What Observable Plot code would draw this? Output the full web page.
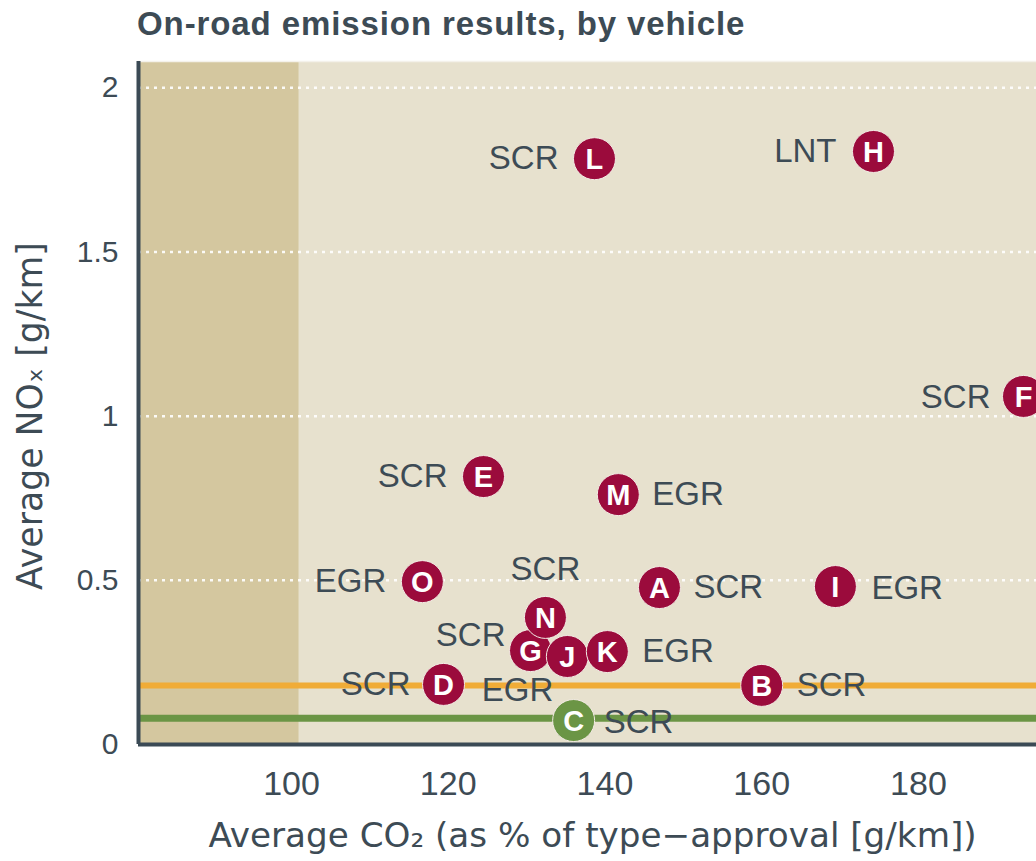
<!DOCTYPE html>
<html><head><meta charset="utf-8">
<script src="https://cdn.jsdelivr.net/npm/d3@7"></script>
<script src="https://cdn.jsdelivr.net/npm/@observablehq/plot@0.6"></script>
<style>
html,body{margin:0;padding:0;background:#fff;overflow:hidden;width:1036px;height:861px}
#title{height:56px;box-sizing:border-box;padding-left:137px;padding-top:4px;font:bold 33px "Liberation Sans",Arial,sans-serif;letter-spacing:0.9px;color:#3d4b55;line-height:40px;white-space:nowrap}
#chart svg{display:block}
</style></head><body>
<div id="title">On-road emission results, by vehicle</div>
<div id="chart"></div>
<script>
// ---- data ----
const vehicles   = ["A","B","C","D","E","F","G","H","I","J","K","L","M","N","O"];
const co2        = [146.95,160.0,136.0,119.4,124.5,193.4,130.5,174.26,169.4,135.2,140.3,138.66,141.7,132.4,116.7];
const nox        = [0.478,0.18,0.073,0.183,0.816,1.06,0.286,1.806,0.481,0.268,0.283,1.784,0.761,0.387,0.496];
const technology = ["SCR","SCR","SCR","SCR","SCR","SCR","SCR","LNT","EGR","EGR","EGR","SCR","EGR","SCR","EGR"];
const xTicks = [100,120,140,160,180];
const yTicks = [0,0.5,1,1.5,2];
const gridTicks = [0.5,1,1.5,2];
const typeApprovalLimit = 101;      // end of shaded band
const limitOrange = 0.18;
const limitGreen = 0.08;
const xDomain = [80.48, 195.06];
const yDomain = [0, 2.08];
const xLabel = "Average CO\u2082 (as % of type\u2212approval [g/km])";
const yLabel = "Average NO\u2093 [g/km]";

const data = vehicles.map((id,i)=>({id, co2:co2[i], nox:nox[i], tech:technology[i]}));

// ---- layout / styles ----
const ink = "#3d4b55", crimson = "#9b0b3c", green = "#6b9545", orange = "#f0ac37";
const labelLayout = { // dx, dy, anchor
  A:[34,0,"start"], B:[35,0,"start"], C:[30,2,"start"], D:[-33,0,"end"], E:[-36,0,"end"],
  F:[-33,1,"end"], G:[-25,-15,"end"], H:[-37,0,"end"], I:[36,2,"start"], J:[-14,34,"end"],
  K:[35,0,"start"], L:[-36,0,"end"], M:[34,0,"start"], N:[0,-48,"middle"], O:[-36,0,"end"]
};
const font = '"Liberation Sans", Arial, sans-serif';
const wideFont = '"DejaVu Sans", sans-serif';

const pointMarks = [];
for (const d of data) {
  pointMarks.push(Plot.dot([d], {x:"co2", y:"nox", r:21,
    fill: d.nox < limitGreen ? green : crimson, stroke:"#f3ebe4", strokeWidth:1}));
  pointMarks.push(Plot.text([d], {x:"co2", y:"nox", text:"id", fill:"white",
    fontWeight:"bold", fontSize:29, dy:1}));
}
const labelMarks = data.map(d => {
  const [dx,dy,anchor] = labelLayout[d.id];
  return Plot.text([d], {x:"co2", y:"nox", text:"tech", fill:ink, fontSize:33,
    dx, dy, textAnchor:anchor});
});

const chart = Plot.plot({
  width: 1036, height: 805,
  marginTop: 5, marginBottom: 117, marginLeft: 138, marginRight: 0,
  style: {fontFamily: font, color: ink, background: "transparent", overflow: "visible"},
  x: {domain: xDomain},
  y: {domain: yDomain},
  marks: [
    Plot.rect([{x1: xDomain[0], x2: typeApprovalLimit}], {x1:"x1", x2:"x2", y1: yDomain[0], y2: yDomain[1], fill:"#d4c79f"}),
    Plot.rect([{x1: typeApprovalLimit, x2: xDomain[1]}], {x1:"x1", x2:"x2", y1: yDomain[0], y2: yDomain[1], fill:"#e7e1ce"}),
    Plot.ruleY([yDomain[1]], {stroke:"#f4f1ea", strokeWidth:1.5}),
    Plot.ruleY(gridTicks, {stroke:"#ffffff", strokeOpacity:0.9, strokeWidth:2.5, strokeDasharray:"3,5"}),
    Plot.ruleY([limitOrange], {stroke: orange, strokeWidth:6}),
    Plot.ruleY([limitGreen], {stroke: green, strokeWidth:7}),
    Plot.ruleY([0], {stroke:"#3b4a55", strokeWidth:4}),
    Plot.ruleX([xDomain[0]], {stroke:"#3b4a55", strokeWidth:4}),
    Plot.axisY({ticks: yTicks, tickSize:0, tickPadding:20, fontSize:30, label:null, fill: ink, tickFormat: d => String(d)}),
    Plot.axisX({ticks: xTicks, tickSize:0, tickPadding:26, fontSize:34, label:null, fill: ink, tickFormat: d => String(d)}),
    Plot.text([xLabel], {frameAnchor:"bottom", textAnchor:"middle", lineAnchor:"middle", dx:5, dy:92, fontSize:34.2, fontFamily: wideFont, fill: ink}),
    Plot.text([yLabel], {frameAnchor:"left", textAnchor:"middle", lineAnchor:"middle", rotate:-90, dx:-108, dy:13, fontSize:34.7, fontFamily: wideFont, fill: ink}),
    ...labelMarks,
    ...pointMarks
  ]
});
document.getElementById("chart").appendChild(chart);
</script>
</body></html>
